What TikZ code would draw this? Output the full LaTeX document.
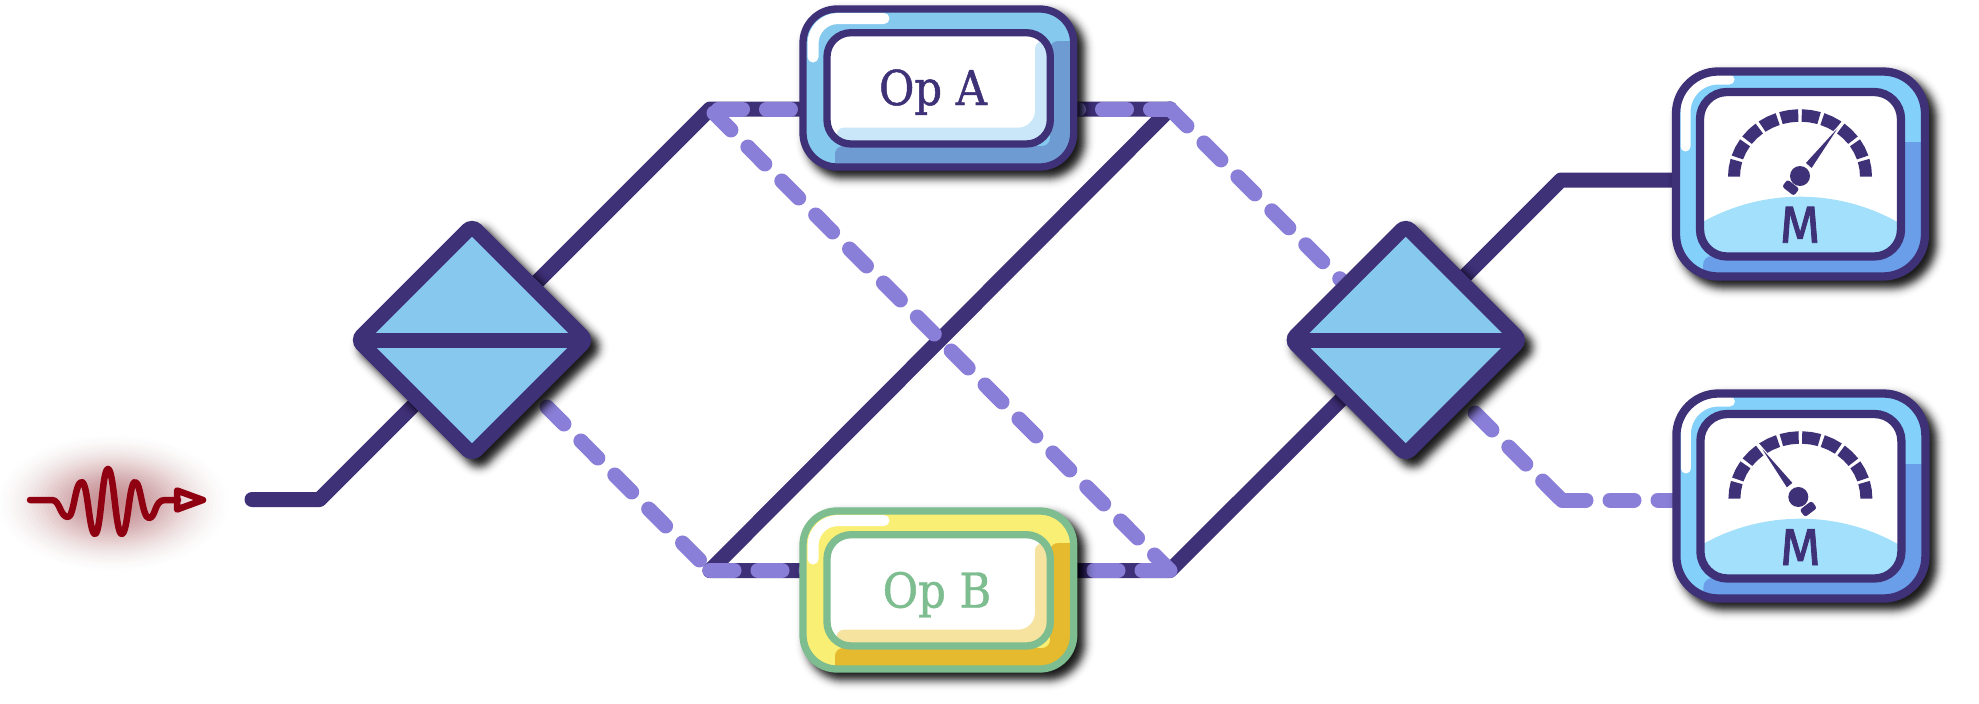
\documentclass[tikz,border=0pt]{standalone}
\usepackage{fontspec}
\setmainfont{DejaVu Serif}
\newfontfamily\opfont[FakeStretch=0.9,FakeBold=1]{DejaVu Serif}
\newfontfamily\metfont[FakeBold=1.6]{Fira Sans}
\definecolor{ink}{HTML}{3F3177}
\definecolor{dash}{HTML}{8A7FD8}
\definecolor{bsblue}{HTML}{87C9EE}
\definecolor{opamain}{HTML}{85C9EF}
\definecolor{opadark}{HTML}{6E9BD1}
\definecolor{opalight}{HTML}{C9E7F8}
\definecolor{opbmain}{HTML}{FAEF75}
\definecolor{opbdark}{HTML}{E6BA2E}
\definecolor{opblight}{HTML}{F6E3A0}
\definecolor{opbline}{HTML}{7DBD8F}
\definecolor{metmain}{HTML}{83D0FB}
\definecolor{metdark}{HTML}{6A9EE9}
\definecolor{metdome}{HTML}{A3E0FB}
\definecolor{pulse}{HTML}{8F0010}
\tikzset{
  solidline/.style={draw=ink,line width=15pt,line join=round,line cap=round},
  dashline/.style={draw=dash,line width=15pt,line join=round,line cap=round,dash pattern=on 24pt off 24pt},
  oplabel/.style={anchor=base,inner sep=0pt,font=\opfont\fontsize{48}{48}\selectfont},
  metlabel/.style={anchor=base,inner sep=0pt,text=ink,font=\metfont\fontsize{52}{52}\selectfont},
}
% opacity of the shadow layer grown by \ee
\newcommand\shadowop{%
  \pgfmathsetmacro\ba{-ln(1-.9/(1+exp(1.7*(\ee-1)/5)))}%
  \pgfmathsetmacro\bb{-ln(1-.9/(1+exp(1.7*\ee/5)))}%
  \pgfmathsetmacro\shop{1-exp(\bb-\ba)}}
\newcommand\softrect[5]{%
  \foreach \ee in {-10,...,12}{%
    \shadowop
    \pgfmathsetmacro\rr{max(#5+\ee,2)}%
    \fill[black,opacity=\shop,rounded corners=\rr pt] ({#1-\ee+7},{#2-\ee+7}) rectangle ({#3+\ee+7},{#4+\ee+7});}}
\newcommand\softdiamond{%
  \foreach \ee in {-10,...,12}{%
    \shadowop
    \pgfmathsetmacro\vv{124.6+1.414*\ee}%
    \pgfmathsetmacro\rr{max(13.5+\ee,1)}%
    \fill[black,opacity=\shop,rounded corners=\rr pt,shift={(7,7)}] (0,-\vv) -- (\vv,0) -- (0,\vv) -- (-\vv,0) -- cycle;}}
% splitter: #1 name, #2 x, #3 y
\newcommand\splitter[3]{%
  \coordinate (#1) at (#2,#3);
  \begin{scope}[shift={(#2,#3)}]
    \softdiamond
    \path[fill=bsblue,draw=ink,line width=15pt,rounded corners=6pt] (0,-114) -- (114,0) -- (0,114) -- (-114,0) -- cycle;
    \draw[ink,line width=15pt] (-112,0) -- (112,0);
  \end{scope}}
% operator box body: #1 dy, #2 main, #3 dark, #4 light, #5 line
\newcommand\opbody[5]{%
  \begin{scope}[shift={(0,#1)}]
    \softrect{799.3}{5.3}{1077.4}{170.7}{37.6}
    \fill[#2,rounded corners=34pt] (803,9) rectangle (1073.7,167);
    \begin{scope}
      \clip[rounded corners=34pt] (803,9) rectangle (1073.7,167);
      \fill[#3,rounded corners=8pt] (1074,41) -- (1050,41) -- (1050,146) -- (835,146) -- (835,185) -- (1090,185) -- (1090,41) -- cycle;
      \draw[white,line width=11pt,line cap=round] (884,18.5) -- (838,18.5) arc[start angle=90,end angle=180,radius=25pt] -- (813,57);
    \end{scope}
    \fill[white,rounded corners=24pt] (827,32.7) rectangle (1050.3,144);
    \begin{scope}
      \clip[rounded corners=24pt] (827,32.7) rectangle (1050.3,144);
      \fill[#4] (1056,41.5) [rounded corners=7pt] -- (1035,41.5) [rounded corners=17pt] -- (1035,127.7) [rounded corners=7pt] -- (836.7,127.7) -- (836.7,150) [sharp corners] -- (1056,150) -- cycle;
    \end{scope}
    \draw[#5,line width=7.3pt,rounded corners=24pt] (827,32.7) rectangle (1050.3,144);
    \draw[#5,line width=7.3pt,rounded corners=34pt] (803,9) rectangle (1073.7,167);
  \end{scope}}
% meter body: #1 dx, #2 dy
\newcommand\meterbody[2]{%
  \begin{scope}[shift={(#1,#2)}]
    \softrect{1671.85}{67.35}{1929.15}{280.65}{46}
    \fill[metmain,rounded corners=42pt] (1676,71.5) rectangle (1925,276.5);
    \begin{scope}
      \clip[rounded corners=42pt] (1676,71.5) rectangle (1925,276.5);
      \fill[metdark,rounded corners=9pt] (1925,142) -- (1896,142) -- (1896,256) -- (1703,256) -- (1703,290) -- (1940,290) -- (1940,142) -- cycle;
      \draw[white,line width=10pt,line cap=round] (1729.5,79.5) -- (1718,79.5) arc[start angle=90,end angle=180,radius=32.5pt] -- (1685.5,146.5);
    \end{scope}
    \fill[white,rounded corners=27pt] (1700,92) rectangle (1901,256.5);
    \begin{scope}
      \clip[rounded corners=27pt] (1700,92) rectangle (1901,256.5);
      \fill[metdome] (1800,396.7) circle[radius=200pt];
    \end{scope}
    \draw[ink,line width=8.3pt,rounded corners=27pt] (1700,92) rectangle (1901,256.5);
    \draw[ink,line width=8.3pt,rounded corners=42pt] (1676,71.5) rectangle (1925,276.5);
    \foreach \i in {0,...,9}{%
      \pgfmathsetmacro\aa{180-18.3*\i}%
      \pgfmathsetmacro\ab{\aa-7.65}%
      \pgfmathsetmacro\ac{\aa-15.3}%
      \fill[ink] ({1800+72*cos(\aa)},{176.7-67.5*sin(\aa)}) -- ({1800+72*cos(\ab)},{176.7-67.5*sin(\ab)}) -- ({1800+72*cos(\ac)},{176.7-67.5*sin(\ac)}) -- ({1800+60*cos(\ac)},{176.7-55*sin(\ac)}) -- ({1800+60*cos(\ab)},{176.7-55*sin(\ab)}) -- ({1800+60*cos(\aa)},{176.7-55*sin(\aa)}) -- cycle;}
  \end{scope}}
\begin{document}
\begin{tikzpicture}[x=1pt,y=-1pt]
\useasboundingbox (0,0) rectangle (1979,704);
\fill[white] (0,0) rectangle (1979,704);
% glow
\foreach \k in {1,...,30}{%
  \pgfmathsetmacro\tt{1-(\k-1)/30}%
  \pgfmathsetmacro\gw{116*\tt}%
  \pgfmathsetmacro\gh{68*\tt}%
  \pgfmathsetmacro\glowop{.11*\tt*exp(-3*\tt*\tt)}%
  \fill[pulse,opacity=\glowop] (113,503) ellipse[x radius=\gw pt,y radius=\gh pt];}
% pulse
\coordinate (pstart) at (30,500);
\coordinate (pend) at (178,500);
\coordinate (ptip) at (203,500);
\draw[pulse,line width=6.5pt,line cap=round,line join=round] (pstart) -- (52,500) .. controls (60,500) and (60,517) .. (68,517) .. controls (74,517) and (75,482) .. (81.7,482) .. controls (88,482) and (89,534) .. (95,534) .. controls (101,534) and (102,469) .. (108,469) .. controls (114,469) and (115.5,534) .. (121.7,534) .. controls (128,534) and (129,482) .. (135,482) .. controls (141,482) and (142,518) .. (149,518) .. controls (156,518) and (154,500) .. (165,500) -- (pend);
\draw[pulse,line width=6.5pt,line join=round] (177,490.5) -- (ptip) -- (177,509.5) -- cycle;
% junction points
\coordinate (in) at (252,499.5);
\coordinate (k1) at (319.5,499.5);
\coordinate (tl) at (710,109);
\coordinate (tr) at (1170,109);
\coordinate (bl) at (710,570.5);
\coordinate (br) at (1170,570.5);
\coordinate (k2) at (1561,180);
\coordinate (k3) at (1562,500);
\coordinate (k4) at (1561.5,500);
\coordinate (d1) at (547,407);
\coordinate (d2) at (714,113);
\coordinate (d3) at (718.5,109);
\coordinate (d4) at (1475,413);
\coordinate (m1in) at (1680,180);
\coordinate (m2in) at (1680,500);
\coordinate (bs2in) at (1400,339);
% solid connectors
\draw[solidline] (in) -- (k1) -- (tl) -- (tr);
\draw[solidline] (bl) -- (br) -- (k2) -- (m1in);
\draw[solidline] (bl) -- (tr);
% dashed connectors
\draw[dashline] (d1) -- (bl);
\draw[dashline] (bl) -- (br);
\draw[dashline] (d2) -- (br);
\draw[dashline] (d3) -- (tr);
\draw[dashline] (tr) -- (bs2in);
\draw[dashline] (d4) -- (k4);
\draw[dashline] (k3) -- (m2in);
% devices
\splitter{bs1}{472}{340}
\splitter{bs2}{1405.7}{340}
\opbody{0}{opamain}{opadark}{opalight}{ink}
\opbody{502}{opbmain}{opbdark}{opblight}{opbline}
\node[oplabel,text=ink] (opa) at (933,105) {Op A};
\node[oplabel,text=opbline] (opb) at (937,607.5) {Op B};
\meterbody{0}{0}
\meterbody{0.4}{322}
\node[metlabel] (m1) at (1800,242.7) {M};
\node[metlabel] (m2) at (1800.4,565) {M};
% needle of first meter
\path[fill=ink,draw=white,line width=1pt] (1842.7,121.7) -- (1805,163) -- (1811.7,169) -- cycle;
\fill[ink] (1800,176) circle[radius=10pt];
\fill[ink,rounded corners=2.5pt,shift={(1790.7,187.7)},rotate=-38.2] (-7.5,-4.5) rectangle (7.5,4.5);
% needle of second meter
\path[fill=ink,draw=white,line width=1pt] (1756.7,441.7) -- (1786.7,488.3) -- (1793.3,483) -- cycle;
\fill[ink] (1798.3,497) circle[radius=10pt];
\fill[ink,rounded corners=2.5pt,shift={(1808.3,509)},rotate=37] (-7.5,-4.5) rectangle (7.5,4.5);
\end{tikzpicture}
\end{document}
